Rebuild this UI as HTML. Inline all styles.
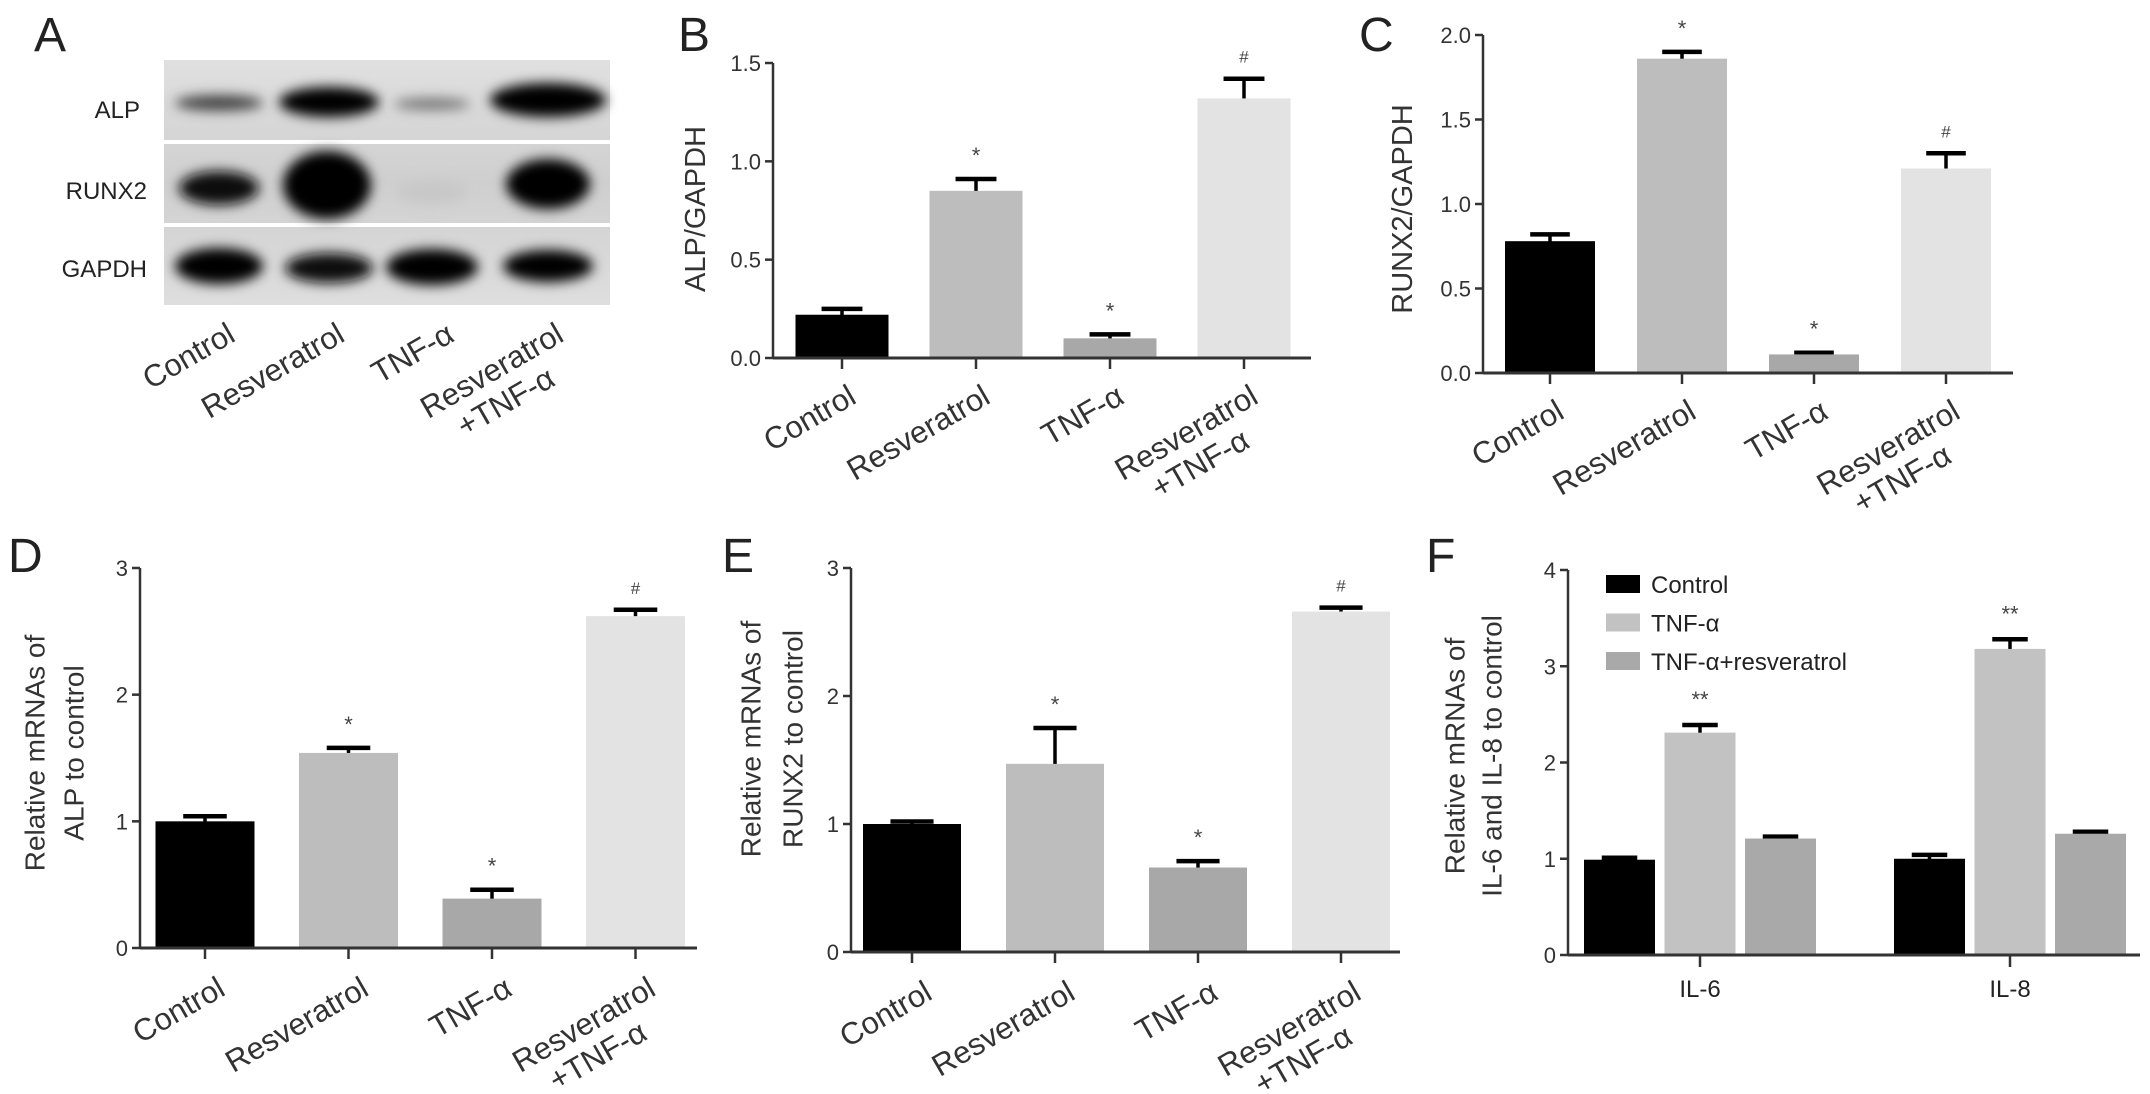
<!DOCTYPE html>
<html><head><meta charset="utf-8">
<style>
html,body{margin:0;padding:0;background:#fff;}
svg{display:block;font-family:"Liberation Sans",sans-serif;}
</style></head>
<body>
<svg id="fig" width="2150" height="1094" viewBox="0 0 2150 1094">
<defs>
<filter id="blur" x="-50%" y="-50%" width="200%" height="200%"><feGaussianBlur stdDeviation="6"/></filter>
<linearGradient id="blotbg" x1="0" y1="0" x2="0" y2="1">
<stop offset="0" stop-color="#e0e0e0"/><stop offset="0.5" stop-color="#cfcfcf"/><stop offset="1" stop-color="#dedede"/></linearGradient>
</defs>
<g>
<text x="34" y="51" font-size="48" fill="#222">A</text>
<rect x="164" y="60" width="446" height="245" fill="url(#blotbg)"/>
<rect x="164" y="140" width="446" height="4" fill="#fff"/>
<rect x="164" y="223" width="446" height="4" fill="#fff"/>
<g filter="url(#blur)">
<ellipse cx="219" cy="103" rx="44" ry="8" fill="#444"/>
<ellipse cx="329" cy="102" rx="50" ry="15" fill="#000"/>
<ellipse cx="432" cy="104" rx="38" ry="6" fill="#777"/>
<ellipse cx="548" cy="100" rx="58" ry="17" fill="#000"/>
<ellipse cx="219" cy="188" rx="40" ry="17" fill="#111"/>
<ellipse cx="327" cy="185" rx="44" ry="34" fill="#000"/>
<ellipse cx="432" cy="192" rx="35" ry="12" fill="#c8c8c8"/>
<ellipse cx="548" cy="184" rx="42" ry="25" fill="#000"/>
<ellipse cx="219" cy="266" rx="44" ry="18" fill="#000"/>
<ellipse cx="329" cy="268" rx="44" ry="15" fill="#111"/>
<ellipse cx="432" cy="267" rx="46" ry="18" fill="#000"/>
<ellipse cx="548" cy="266" rx="45" ry="16" fill="#000"/>
</g>
<text x="140" y="118" font-size="24" text-anchor="end" fill="#222">ALP</text>
<text x="147" y="199" font-size="24" text-anchor="end" fill="#222">RUNX2</text>
<text x="147" y="277" font-size="24" text-anchor="end" fill="#222">GAPDH</text>
</g>
<text x="678" y="51" font-size="48" fill="#222">B</text>
<text x="1359" y="51" font-size="48" fill="#222">C</text>
<text x="8" y="572" font-size="48" fill="#222">D</text>
<text x="722" y="572" font-size="48" fill="#222">E</text>
<text x="1426" y="572" font-size="48" fill="#222">F</text>
</svg>
<script>
var blotLanes = ["Control","Resveratrol","TNF-α","Resveratrol|+TNF-α"];
var groupCategories = ["Control","Resveratrol","TNF-α","Resveratrol|+TNF-α"];
var barColors = ["#000000","#bdbdbd","#a8a8a8","#e3e3e3"];

var bValues = [0.22, 0.85, 0.10, 1.32];
var bErrors = [0.25, 0.91, 0.12, 1.42];
var bMarks = ["", "*", "*", "#"];
var bTicks = [0, 0.5, 1.0, 1.5];
var bTickLabels = ["0.0","0.5","1.0","1.5"];

var cValues = [0.78, 1.86, 0.11, 1.21];
var cErrors = [0.82, 1.90, 0.12, 1.30];
var cMarks = ["", "*", "*", "#"];
var cTicks = [0, 0.5, 1.0, 1.5, 2.0];
var cTickLabels = ["0.0","0.5","1.0","1.5","2.0"];

var dValues = [1.00, 1.54, 0.39, 2.62];
var dErrors = [1.04, 1.58, 0.46, 2.67];
var dMarks = ["", "*", "*", "#"];
var dTicks = [0, 1, 2, 3];
var dTickLabels = ["0","1","2","3"];

var eValues = [1.00, 1.47, 0.66, 2.66];
var eErrors = [1.02, 1.75, 0.71, 2.69];
var eMarks = ["", "*", "*", "#"];
var eTicks = [0, 1, 2, 3];
var eTickLabels = ["0","1","2","3"];

var fGroups = ["IL-6","IL-8"];
var fSeries = ["Control","TNF-α","TNF-α+resveratrol"];
var fControl = [0.99, 1.00];
var fControlErr = [1.01, 1.04];
var fTnf = [2.31, 3.18];
var fTnfErr = [2.39, 3.28];
var fTnfRes = [1.21, 1.26];
var fTnfResErr = [1.23, 1.28];
var fMarks = ["**","**"];
var fTicks = [0,1,2,3,4];
var fTickLabels = ["0","1","2","3","4"];

var NS = "http://www.w3.org/2000/svg";
var svg = document.getElementById("fig");
function mk(tag, attrs, parent, text){
  var e = document.createElementNS(NS, tag);
  for (var k in attrs) e.setAttribute(k, attrs[k]);
  if (text !== undefined) e.textContent = text;
  (parent || svg).appendChild(e);
  return e;
}

function rotLabel(parent, x, y, label, size){
  var g = mk("g", {transform:"translate("+x+","+y+") rotate(-30)"}, parent);
  
  
  var parts = label.split("|");
  mk("text", {"text-anchor":"end", "font-size":size, fill:"#333"}, g, parts[0]);
  if (parts.length > 1) {
    mk("text", {"text-anchor":"end", "font-size":size, fill:"#333", x:-size*0.95, y:size*1.1}, g, parts[1]);
  }
}

(function(){
  var g = mk("g", {});
  
  
  var lane0 = 219, laneStep = 109.5;
  for (var i = 0; i < blotLanes.length; i++) {
    rotLabel(g, lane0 + i*laneStep + 18, 340, blotLanes[i], 31);
  }
})();

function barChart(o){
  var g = mk("g", {});
  
  
  function y(v){ return o.y0 - (v / o.max) * (o.y0 - o.yTop); }
  for (var i = 0; i < o.values.length; i++) {
    var cx = o.c0 + i*o.step;
    var yt = y(o.values[i]), ye = y(o.errors[i]);
    var el = mk("line", {x1:cx, x2:cx, y1:yt+6, y2:ye, stroke:"#000", "stroke-width":3.5}, g);
    
    
    var cap = mk("line", {x1:cx-o.w*0.22, x2:cx+o.w*0.22, y1:ye, y2:ye, stroke:"#000", "stroke-width":4.5}, g);
    
    
    var r = mk("rect", {x:cx-o.w/2, y:yt, width:o.w, height:o.y0-yt, fill:barColors[i]}, g);
    
    
    if (o.marks[i]) {
      var m = mk("text", {x:cx, y:ye - 16, "text-anchor":"middle", "font-size":o.marks[i]=="#"?17:22, fill:"#444"}, g, o.marks[i]);
      
      
    }
    var tk = mk("line", {x1:cx, x2:cx, y1:o.y0, y2:o.y0+11, stroke:"#333", "stroke-width":2.5}, g);
    
    
    rotLabel(g, cx + o.lx, o.y0 + o.ly, o.cats[i], o.lfs);
  }
  var ax = mk("line", {x1:o.ax, x2:o.ax, y1:o.yTop, y2:o.y0, stroke:"#333", "stroke-width":2.5}, g);
  
  
  var xx = mk("line", {x1:o.ax, x2:o.axEnd, y1:o.y0, y2:o.y0, stroke:"#333", "stroke-width":3}, g);
  
  
  for (var j = 0; j < o.ticks.length; j++) {
    var ty = y(o.ticks[j]);
    var t = mk("line", {x1:o.ax-8, x2:o.ax, y1:ty, y2:ty, stroke:"#333", "stroke-width":2.5}, g);
    
    
    var tl = mk("text", {x:o.ax-12, y:ty+8, "text-anchor":"end", "font-size":22, fill:"#333"}, g, o.tickLabels[j]);
    
    
  }
  for (var k = 0; k < o.title.length; k++) {
    var tt = mk("text", {transform:"translate("+o.tx[k]+","+o.ty+") rotate(-90)", "text-anchor":"middle", "dominant-baseline":"central", "font-size":o.tfs, fill:"#333"}, g, o.title[k]);
    
    
  }
}

barChart({name:"panel-b-alp-gapdh", values:bValues, errors:bErrors, marks:bMarks, cats:groupCategories,
  ticks:bTicks, tickLabels:bTickLabels, max:1.5, y0:358, yTop:63, ax:773, axEnd:1311, c0:842, step:134, w:93,
  lx:16, ly:44, lfs:31, title:["ALP/GAPDH"], tx:[696], ty:209, tfs:29});
barChart({name:"panel-c-runx2-gapdh", values:cValues, errors:cErrors, marks:cMarks, cats:groupCategories,
  ticks:cTicks, tickLabels:cTickLabels, max:2.0, y0:373, yTop:35, ax:1483, axEnd:2013, c0:1550, step:132, w:90,
  lx:16, ly:44, lfs:31, title:["RUNX2/GAPDH"], tx:[1403], ty:209, tfs:29});
barChart({name:"panel-d-alp-mrna", values:dValues, errors:dErrors, marks:dMarks, cats:groupCategories,
  ticks:dTicks, tickLabels:dTickLabels, max:3, y0:948, yTop:568, ax:140, axEnd:697, c0:205, step:143.5, w:99,
  lx:22, ly:46, lfs:31, title:["Relative mRNAs of","ALP to control"], tx:[35,74], ty:753, tfs:28});
barChart({name:"panel-e-runx2-mrna", values:eValues, errors:eErrors, marks:eMarks, cats:groupCategories,
  ticks:eTicks, tickLabels:eTickLabels, max:3, y0:952, yTop:568, ax:851, axEnd:1400, c0:912, step:143, w:98,
  lx:22, ly:46, lfs:31, title:["Relative mRNAs of","RUNX2 to control"], tx:[751,793], ty:739, tfs:28});

(function(){
  var g = mk("g", {});
  
  
  var y0 = 955, yTop = 570, max = 4, ax = 1568;
  function y(v){ return y0 - (v/max)*(y0-yTop); }
  var groupCenters0 = 1700, groupStep = 310, off = 80.5, w = 71;
  var series = [fControl, fTnf, fTnfRes];
  var errs = [fControlErr, fTnfErr, fTnfResErr];
  var cols = ["#000000","#c2c2c2","#a9a9a9"];
  for (var gi = 0; gi < fGroups.length; gi++) {
    var gc = groupCenters0 + gi*groupStep;
    for (var s = 0; s < series.length; s++) {
      var cx = gc + (s-1)*off;
      var yt = y(series[s][gi]), ye = y(errs[s][gi]);
      var el = mk("line", {x1:cx, x2:cx, y1:yt+6, y2:ye, stroke:"#000", "stroke-width":3.5}, g);
      
      
      var cap = mk("line", {x1:cx-w*0.25, x2:cx+w*0.25, y1:ye, y2:ye, stroke:"#000", "stroke-width":4.5}, g);
      
      
      var r = mk("rect", {x:cx-w/2, y:yt, width:w, height:y0-yt, fill:cols[s]}, g);
      
      
      if (s == 1) {
        var m = mk("text", {x:cx, y:ye-18, "text-anchor":"middle", "font-size":22, fill:"#444"}, g, fMarks[gi]);
        
        
      }
    }
    var tk = mk("line", {x1:gc, x2:gc, y1:y0, y2:y0+12, stroke:"#333", "stroke-width":2.5}, g);
    
    
    var lb = mk("text", {x:gc, y:y0+42, "text-anchor":"middle", "font-size":24, fill:"#222"}, g, fGroups[gi]);
    
    
  }
  var a1 = mk("line", {x1:ax, x2:ax, y1:yTop, y2:y0, stroke:"#333", "stroke-width":2.5}, g);
  
  
  var a2 = mk("line", {x1:ax, x2:2140, y1:y0, y2:y0, stroke:"#333", "stroke-width":3}, g);
  
  
  for (var j = 0; j < fTicks.length; j++) {
    var ty = y(fTicks[j]);
    var t = mk("line", {x1:ax-8, x2:ax, y1:ty, y2:ty, stroke:"#333", "stroke-width":2.5}, g);
    
    
    var tl = mk("text", {x:ax-12, y:ty+8, "text-anchor":"end", "font-size":22, fill:"#333"}, g, fTickLabels[j]);
    
    
  }
  var titles = ["Relative mRNAs of","IL-6 and IL-8 to control"], tx = [1455,1492];
  for (var k = 0; k < titles.length; k++) {
    var tt = mk("text", {transform:"translate("+tx[k]+",756) rotate(-90)", "text-anchor":"middle", "dominant-baseline":"central", "font-size":28, fill:"#333"}, g, titles[k]);
    
    
  }
  var lg = mk("g", {}, g);
  
  
  var ly0 = 584, lstep = 38.5;
  for (var s2 = 0; s2 < fSeries.length; s2++) {
    var sw = mk("rect", {x:1606, y:ly0 + s2*lstep - 9, width:34, height:18, fill:cols[s2]}, lg);
    
    
    var lt = mk("text", {x:1651, y:ly0 + s2*lstep + 9, "font-size":24, fill:"#222"}, lg, fSeries[s2]);
    
    
  }
})();
</script>
</body></html>
